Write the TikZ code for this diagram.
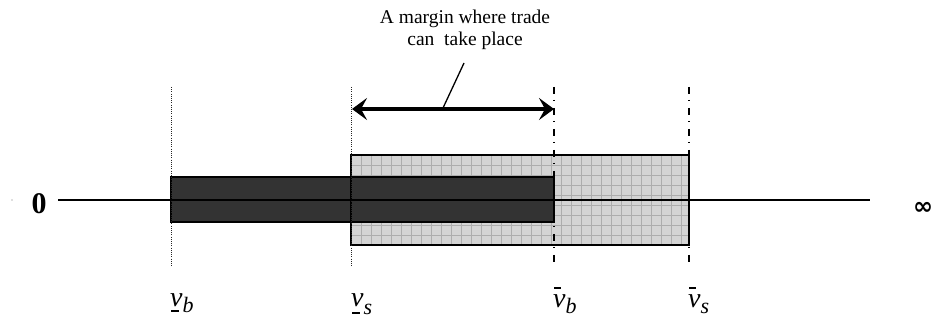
\documentclass[tikz,border=0pt]{standalone}
\usepackage{fontspec}
\setmainfont{Liberation Serif}
\newfontfamily\symfnt{DejaVu Sans}
\usetikzlibrary{arrows.meta}
\begin{document}
\begin{tikzpicture}[x=1pt,y=-1pt,
  dotline/.style={line width=0.9pt, dash pattern=on 1pt off 1.2pt, black!85},
  dashdot/.style={line width=1.3pt, dash pattern=on 7pt off 6pt on 1pt off 7pt},
  gridline/.style={black!32, line width=0.8pt},
  lbl/.style={inner sep=0pt, anchor=base west, font=\fontsize{28}{28}\selectfont\itshape},
  bigarrow/.style={line width=4pt, {Stealth[length=15pt,width=22pt,inset=6pt]}-{Stealth[length=15pt,width=22pt,inset=6pt]}},
  txt/.style={inner sep=0pt, anchor=base, font=\fontsize{19.5}{22}\selectfont},
]
\useasboundingbox (0,0) rectangle (932,320);
\newcommand\subtxt[2]{\raisebox{#1}{\fontsize{22}{22}\selectfont #2}}
% light grid rectangle (fill)
\fill[black!17] (351,155) rectangle (689,245);
\begin{scope}
  \clip (351,155) rectangle (689,245);
  \foreach \x in {361,371,...,689} \draw[gridline] (\x,155) -- (\x,245);
  \foreach \y in {165,175,...,245} \draw[gridline] (351,\y) -- (689,\y);
\end{scope}
% dark rectangle
\draw[fill=black!80, line width=1.3pt] (171,177) rectangle (554,222);
% light rectangle border
\draw[line width=1.3pt] (351,155) rectangle (689,245);
% vertical guide lines
\draw[dotline] (171,87) -- (171,267);
\draw[dotline] (351,87) -- (351,267);
\draw[dashdot] (554,87) -- (554,267);
\draw[dashdot] (689,87) -- (689,267);
% main axis
\fill[black!55] (12,200) circle (0.6);
\node[inner sep=0pt, font=\fontsize{30}{30}\selectfont\bfseries] (zero) at (39,203.5) {0};
\node[inner sep=0pt, font=\fontsize{24}{24}\selectfont\symfnt\bfseries] (inf) at (923,208) {∞};
\coordinate (axl) at (58,200);
\coordinate (axr) at (870,200);
\draw[line width=1.3pt] (axl) -- (axr);
% margin arrow
\coordinate (a1) at (352,109);
\coordinate (a2) at (554,109);
\draw[bigarrow] (a1) -- (a2);
\node[txt] (t1) at (465,24) {A margin where trade};
\node[txt] (t2) at (465,46) {can\ \ take place};
\coordinate (lt) at (464,63);
\coordinate (lb) at (443,108);
\draw[line width=1.3pt] (lt) -- (lb);
% labels
\node[lbl] (vb) at (170,307) {v\subtxt{-6pt}{b}};
\draw[line width=1.1pt] (171,311) -- (179,311);
\node[lbl] (vs) at (351,307) {v\subtxt{-8pt}{s}};
\draw[line width=1.1pt] (352,313) -- (360,313);
\node[lbl] (bvb) at (553,308) {v\subtxt{-6pt}{b}};
\draw[line width=1.1pt] (554,288) -- (561,288);
\node[lbl] (bvs) at (688,308) {v\subtxt{-6pt}{s}};
\draw[line width=1.1pt] (689,288) -- (696,288);
\end{tikzpicture}
\end{document}
